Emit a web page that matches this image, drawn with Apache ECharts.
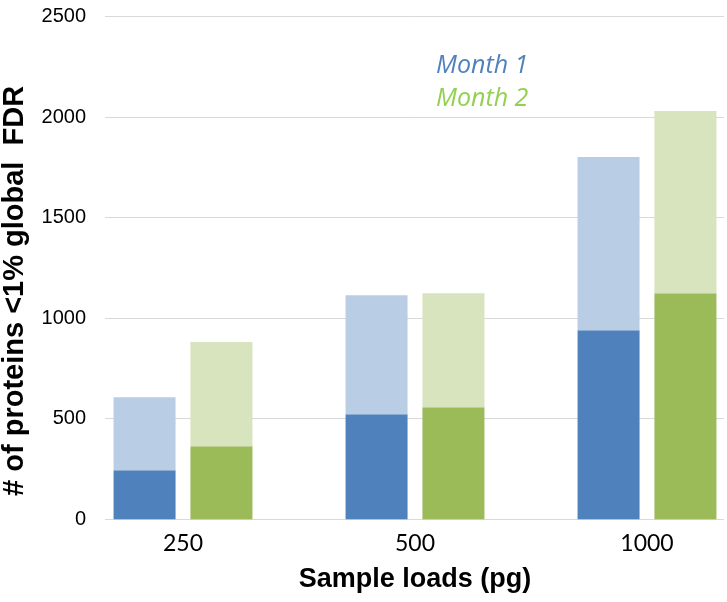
<!DOCTYPE html>
<html>
<head>
<meta charset="utf-8">
<script src="https://cdn.jsdelivr.net/npm/echarts@6/dist/echarts.min.js"></script>
<style>
html,body{margin:0;padding:0;background:#fff;}
#chart{width:727px;height:602px;}
</style>
</head>
<body>
<div id="chart"></div>
<script>
// Data
var categories = ['250', '500', '1000'];
var month1Base = [244, 522, 940];
var month1Total = [607, 1114, 1801];
var month2Base = [363, 557, 1124];
var month2Total = [881, 1124, 2030];
var yTicks = { min: 0, max: 2500, interval: 500 };

function diff(total, base) {
  return total.map(function (t, i) { return t - base[i]; });
}

var chart = echarts.init(document.getElementById('chart'));
var option = {
  backgroundColor: '#ffffff',
  animation: false,
  legend: {
    orient: 'vertical',
    left: 426,
    top: 48,
    itemGap: 8,
    itemWidth: 0,
    itemHeight: 0,
    icon: 'none',
    selectedMode: false,
    textStyle: { fontFamily: 'Open Sans', fontStyle: 'italic', fontSize: 25 },
    data: [
      { name: 'Month 1', textStyle: { color: '#4F81BD' } },
      { name: 'Month 2', textStyle: { color: '#92D050' } }
    ]
  },
  grid: [
    { left: 105, right: 3, top: 16.5, bottom: 82.7, containLabel: false, outerBoundsMode: 'none' },
    { left: 67, width: 696, top: 16.5, bottom: 82.7, containLabel: false, outerBoundsMode: 'none' }
  ],
  xAxis: [
    { type: 'value', gridIndex: 0, show: false, min: 0, max: 1 },
    {
      type: 'category', gridIndex: 1, data: categories,
      axisLine: { show: false }, axisTick: { show: false },
      axisLabel: { margin: 13, color: '#000', fontFamily: 'Lato', fontSize: 23 },
      name: 'Sample loads (pg)', nameLocation: 'middle', nameGap: 47,
      nameTextStyle: { fontFamily: 'Liberation Sans', fontWeight: 'bold', fontSize: 27, color: '#000' }
    }
  ],
  yAxis: [
    {
      type: 'value', gridIndex: 0, min: yTicks.min, max: yTicks.max, interval: yTicks.interval,
      axisLine: { show: false }, axisTick: { show: false },
      splitLine: { lineStyle: { color: '#D9D9D9', width: 1 } },
      axisLabel: { margin: 19, color: '#000', fontFamily: 'Liberation Sans', fontSize: 20,
        formatter: function (v) { return String(v); } },
      name: '# of proteins <1% global  FDR', nameLocation: 'middle', nameGap: 76, nameRotate: 90,
      nameTextStyle: { fontFamily: 'Liberation Sans', fontWeight: 'bold', fontSize: 29, color: '#000', padding: [0, 46, 0, 0] }
    },
    { type: 'value', gridIndex: 1, show: false, min: yTicks.min, max: yTicks.max, interval: yTicks.interval, splitLine: { show: false } }
  ],
  series: [
    { name: 'Month 1', type: 'bar', xAxisIndex: 1, yAxisIndex: 1, stack: 'm1', barWidth: 62, barGap: '24%',
      itemStyle: { color: '#4F81BD' }, data: month1Base },
    { name: 'Month 1 total', type: 'bar', xAxisIndex: 1, yAxisIndex: 1, stack: 'm1', barWidth: 62, barGap: '24%',
      itemStyle: { color: '#B9CDE5' }, data: diff(month1Total, month1Base) },
    { name: 'Month 2', type: 'bar', xAxisIndex: 1, yAxisIndex: 1, stack: 'm2', barWidth: 62, barGap: '24%',
      itemStyle: { color: '#9BBB59' }, data: month2Base },
    { name: 'Month 2 total', type: 'bar', xAxisIndex: 1, yAxisIndex: 1, stack: 'm2', barWidth: 62, barGap: '24%',
      itemStyle: { color: '#D7E4BD' }, data: diff(month2Total, month2Base) }
  ]
};
chart.setOption(option);
</script>
</body>
</html>
